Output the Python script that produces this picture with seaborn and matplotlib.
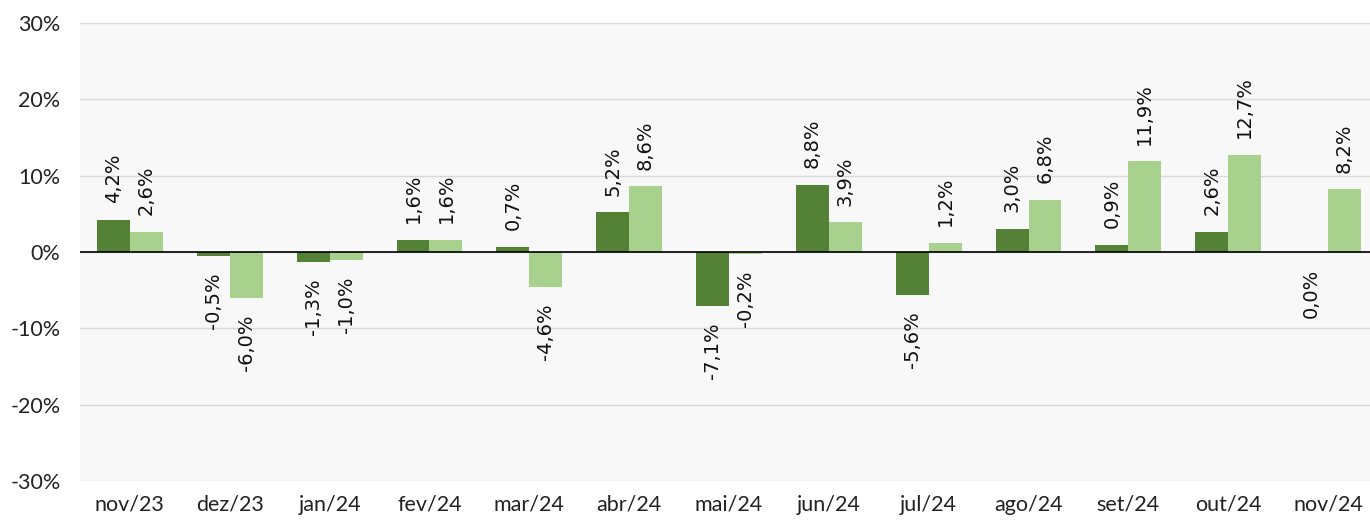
import matplotlib
matplotlib.use("Agg")
import matplotlib.pyplot as plt
import pandas as pd
import seaborn as sns
from matplotlib.ticker import FuncFormatter

months = ["nov/23", "dez/23", "jan/24", "fev/24", "mar/24", "abr/24", "mai/24",
          "jun/24", "jul/24", "ago/24", "set/24", "out/24", "nov/24"]
serie_a = [4.2, -0.5, -1.3, 1.6, 0.7, 5.2, -7.1, 8.8, -5.6, 3.0, 0.9, 2.6, 0.0]
serie_b = [2.6, -6.0, -1.0, 1.6, -4.6, 8.6, -0.2, 3.9, 1.2, 6.8, 11.9, 12.7, 8.2]
series_names = ["A", "B"]
colors = ["#538135", "#A9D18E"]

df = pd.DataFrame({
    "mes": months * 2,
    "valor": serie_a + serie_b,
    "serie": [series_names[0]] * len(months) + [series_names[1]] * len(months),
})

sns.set_style("white")
plt.rcParams["font.family"] = ["Lato", "DejaVu Sans"]

fig = plt.figure(figsize=(13.7, 5.23), dpi=100)
# the plot area runs slightly past the right edge, like the original
ax = fig.add_axes([0.0584, 0.0803, 0.9474, 0.8757])
ax.set_facecolor("#f8f8f8")

sns.barplot(data=df, x="mes", y="valor", hue="serie", order=months,
            hue_order=series_names, palette=colors, width=0.66, saturation=1,
            linewidth=0, legend=False, ax=ax)

ax.set_ylim(-30, 30)
ax.set_xlim(-0.5, len(months) - 0.5)
ax.set_yticks(range(-30, 31, 10))
ax.yaxis.set_major_formatter(FuncFormatter(lambda v, _: f"{v:.0f}%"))
ax.grid(axis="y", color="#d9d9d9", linewidth=1)
ax.set_axisbelow(True)
ax.axhline(0, color="black", linewidth=1.2, zorder=3)
for s in ax.spines.values():
    s.set_visible(False)
ax.set_xlabel("")
ax.set_ylabel("")
ax.tick_params(axis="y", length=0, pad=14, labelsize=15.5, labelcolor="#222222")
ax.tick_params(axis="x", length=0, pad=10, labelsize=15.5, labelcolor="#222222")

for cont in ax.containers:
    for bar in cont:
        h = bar.get_height()
        x = bar.get_x() + bar.get_width() / 2
        txt = f"{h:.1f}%".replace(".", ",")
        if h > 0:
            ax.annotate(txt, (x, h), xytext=(0, 12), textcoords="offset points",
                        rotation=90, ha="center", va="bottom", fontsize=14,
                        family="DejaVu Sans", color="#111111")
        else:
            ax.annotate(txt, (x, h), xytext=(0, -12), textcoords="offset points",
                        rotation=90, ha="center", va="top", fontsize=14,
                        family="DejaVu Sans", color="#111111")

fig.savefig("out.png", dpi=100)
